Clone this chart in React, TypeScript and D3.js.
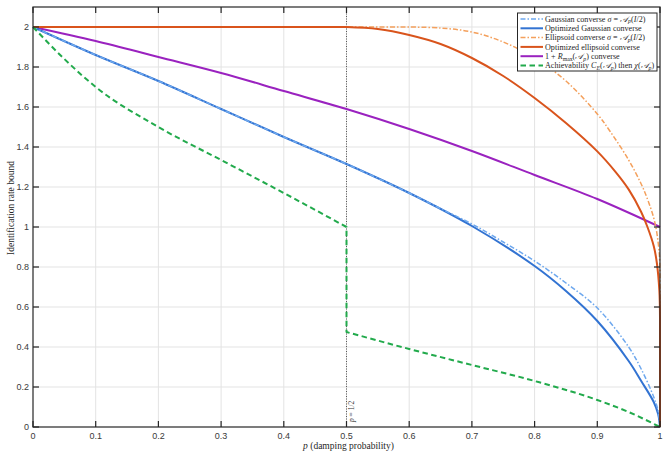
import React, { useEffect, useRef } from 'react';
import * as d3 from 'd3';

// damping probability grids and bound values
const pRmax = [0, 0.1, 0.2, 0.3, 0.4, 0.5, 0.6, 0.7, 0.8, 0.9, 1];
const vRmax = [2, 1.93, 1.85, 1.77, 1.68, 1.59, 1.49, 1.38, 1.26, 1.14, 1.0];

const pOptGauss = [0, 0.1, 0.2, 0.3, 0.4, 0.5, 0.6, 0.7, 0.8, 0.85, 0.9, 0.95, 0.97, 0.99, 0.997, 1];
const vOptGauss = [2, 1.86, 1.73, 1.59, 1.45, 1.315, 1.17, 1.005, 0.805, 0.68, 0.53, 0.33, 0.23, 0.125, 0.065, 0];

const pGauss = [0, 0.1, 0.2, 0.3, 0.4, 0.5, 0.6, 0.65, 0.7, 0.75, 0.8, 0.85, 0.9, 0.95, 0.97, 0.99, 0.997, 1];
const vGauss = [2, 1.86, 1.73, 1.59, 1.45, 1.315, 1.17, 1.092, 1.015, 0.925, 0.83, 0.72, 0.595, 0.4, 0.29, 0.15, 0.08, 0];

const pEll = [0, 0.6, 0.65, 0.7, 0.75, 0.8, 0.85, 0.9, 0.92, 0.95, 0.97, 0.98, 0.99, 0.995, 0.999, 1];
const vEll = [2, 2, 1.995, 1.975, 1.925, 1.845, 1.73, 1.565, 1.48, 1.335, 1.215, 1.14, 1.045, 0.97, 0.86, 0.78];

const pOptEll = [0, 0.5, 0.55, 0.6, 0.65, 0.7, 0.75, 0.8, 0.85, 0.9, 0.93, 0.95, 0.97, 0.98, 0.99, 0.995, 0.999, 1];
const vOptEll = [2, 2, 1.99, 1.96, 1.915, 1.845, 1.755, 1.645, 1.52, 1.378, 1.272, 1.188, 1.075, 1.0, 0.905, 0.82, 0.68, 0.55];

// achievability: C_E branch up to p = 1/2, then chi branch
const pAchA = [0, 0.05, 0.1, 0.2, 0.3, 0.4, 0.5];
const vAchA = [2, 1.84, 1.7, 1.5, 1.335, 1.17, 1.0];
const pAchB = [0.5, 0.6, 0.7, 0.8, 0.9, 0.95, 1];
const vAchB = [0.475, 0.39, 0.31, 0.23, 0.135, 0.075, 0];

const xTicks = [0, 0.1, 0.2, 0.3, 0.4, 0.5, 0.6, 0.7, 0.8, 0.9, 1];
const yTicks = [0, 0.2, 0.4, 0.6, 0.8, 1, 1.2, 1.4, 1.6, 1.8, 2];

type Seg = { t: string; s?: 'i' | 'sub' | 'cal' };

const legendItems: { label: Seg[]; color: string; dash: string | null; width: number }[] = [
  { label: [{ t: 'Gaussian converse ' }, { t: 'σ', s: 'i' }, { t: ' = ' }, { t: '𝒜', s: 'cal' }, { t: 'p', s: 'sub' }, { t: '(' }, { t: 'I', s: 'i' }, { t: '/2)' }], color: '#6ea8ee', dash: '5,2,1.5,2', width: 1.5 },
  { label: [{ t: 'Optimized Gaussian converse' }], color: '#3273d2', dash: null, width: 2 },
  { label: [{ t: 'Ellipsoid converse ' }, { t: 'σ', s: 'i' }, { t: ' = ' }, { t: '𝒜', s: 'cal' }, { t: 'p', s: 'sub' }, { t: '(' }, { t: 'I', s: 'i' }, { t: '/2)' }], color: '#f4a05c', dash: '5,2,1.5,2', width: 1.5 },
  { label: [{ t: 'Optimized ellipsoid converse' }], color: '#d9541c', dash: null, width: 2 },
  { label: [{ t: '1 + ' }, { t: 'R', s: 'i' }, { t: 'max', s: 'sub' }, { t: '(' }, { t: '𝒜', s: 'cal' }, { t: 'p', s: 'sub' }, { t: ') converse' }], color: '#9a22bf', dash: null, width: 2 },
  { label: [{ t: 'Achievability ' }, { t: 'C', s: 'i' }, { t: 'E', s: 'sub' }, { t: '(' }, { t: '𝒜', s: 'cal' }, { t: 'p', s: 'sub' }, { t: ') then ' }, { t: 'χ', s: 'i' }, { t: '(' }, { t: '𝒜', s: 'cal' }, { t: 'p', s: 'sub' }, { t: ')' }], color: '#22aa4c', dash: '5.5,3.5', width: 2 },
];

const W = 669;
const H = 457;
const serif = '"Liberation Serif", "DejaVu Serif", serif';
const sans = '"Liberation Sans", Arial, sans-serif';
const axisColor = '#262626';

const zip = (ps: number[], vs: number[]) => ps.map((p, i) => [p, vs[i]] as [number, number]);

const App: React.FC = () => {
  const svgRef = useRef<SVGSVGElement>(null);

  useEffect(() => {
    if (!svgRef.current) return;
    const svg = d3.select(svgRef.current);
    svg.selectAll('*').remove();

    const x = d3.scaleLinear().domain([0, 1]).range([33, 660]);
    const y = d3.scaleLinear().domain([0, 2.1]).range([427, 7]);
    const [x0, x1] = x.range();
    const [yb, yt] = y.range();

    svg.append('rect').attr('width', W).attr('height', H).attr('fill', '#fff');

    // grid
    const grid = svg.append('g').attr('stroke', '#e3e3e3').attr('stroke-width', 1);
    xTicks.slice(1, -1).forEach(t => {
      grid.append('line').attr('x1', x(t)).attr('x2', x(t)).attr('y1', yb).attr('y2', yt);
    });
    yTicks.slice(1).forEach(t => {
      grid.append('line').attr('x1', x0).attr('x2', x1).attr('y1', y(t)).attr('y2', y(t));
    });

    // p = 1/2 marker
    svg.append('line')
      .attr('x1', x(0.5)).attr('x2', x(0.5)).attr('y1', yb).attr('y2', yt)
      .attr('stroke', '#333').attr('stroke-width', 0.8).attr('stroke-dasharray', '1,1.5');
    svg.append('text')
      .attr('transform', `translate(${x(0.5) + 7.5},${yb - 5}) rotate(-90)`)
      .attr('font-family', serif).attr('font-size', 7.5).attr('fill', '#333')
      .html('<tspan font-style="italic">p</tspan> = 1/2');

    const smooth = d3.line<[number, number]>().x(d => x(d[0])).y(d => y(d[1])).curve(d3.curveMonotoneX);
    const round = d3.line<[number, number]>().x(d => x(d[0])).y(d => y(d[1])).curve(d3.curveCatmullRom.alpha(0.5));
    const straight = d3.line<[number, number]>().x(d => x(d[0])).y(d => y(d[1]));
    const join = (...parts: string[]) => parts.map((s, i) => (i ? s.replace(/^M/, 'L') : s)).join('');

    const draw = (d: string, color: string, width: number, dash: string | null) => {
      const p = svg.append('path').attr('d', d).attr('fill', 'none')
        .attr('stroke', color).attr('stroke-width', width)
        .attr('stroke-linejoin', 'round');
      if (dash) p.attr('stroke-dasharray', dash);
    };

    const ell = zip(pEll, vEll);
    const optEll = zip(pOptEll, vOptEll);

    draw(smooth(zip(pRmax, vRmax))!, legendItems[4].color, 2, null);
    draw(round(zip(pOptGauss, vOptGauss))!, legendItems[1].color, 2, null);
    draw(round(zip(pGauss, vGauss))!, legendItems[0].color, 1.5, legendItems[0].dash);
    draw(
      join(straight(ell.slice(0, 2))!, round(ell.slice(1))!, straight([ell[ell.length - 1], [1, 0]])!),
      legendItems[2].color, 1.5, legendItems[2].dash,
    );
    draw(
      join(straight(optEll.slice(0, 2))!, round(optEll.slice(1))!, straight([optEll[optEll.length - 1], [1, 0]])!),
      legendItems[3].color, 2, null,
    );
    draw(
      join(smooth(zip(pAchA, vAchA))!, smooth(zip(pAchB, vAchB))!),
      legendItems[5].color, 2, legendItems[5].dash,
    );

    // axes box with inward ticks
    const frame = svg.append('g').attr('stroke', axisColor).attr('stroke-width', 1.2).attr('fill', 'none');
    frame.append('rect').attr('x', x0).attr('y', yt).attr('width', x1 - x0).attr('height', yb - yt);
    const tl = 6;
    xTicks.forEach(t => {
      frame.append('line').attr('x1', x(t)).attr('x2', x(t)).attr('y1', yb).attr('y2', yb - tl);
      frame.append('line').attr('x1', x(t)).attr('x2', x(t)).attr('y1', yt).attr('y2', yt + tl);
    });
    yTicks.forEach(t => {
      frame.append('line').attr('x1', x0).attr('x2', x0 + tl).attr('y1', y(t)).attr('y2', y(t));
      frame.append('line').attr('x1', x1).attr('x2', x1 - tl).attr('y1', y(t)).attr('y2', y(t));
    });

    const fmt = d3.format('~g');
    svg.append('g').selectAll('text').data(xTicks).enter().append('text')
      .attr('x', d => x(d)).attr('y', yb + 12)
      .attr('text-anchor', 'middle').attr('font-family', sans).attr('font-size', 9).attr('fill', '#3a3a3a')
      .text(d => fmt(d));
    svg.append('g').selectAll('text').data(yTicks).enter().append('text')
      .attr('x', x0 - 4).attr('y', d => y(d) + 3.2)
      .attr('text-anchor', 'end').attr('font-family', sans).attr('font-size', 9).attr('fill', '#3a3a3a')
      .text(d => fmt(d));

    svg.append('text')
      .attr('x', (x0 + x1) / 2 + 2).attr('y', 449)
      .attr('text-anchor', 'middle').attr('font-family', serif).attr('font-size', 9.5).attr('fill', axisColor)
      .html('<tspan font-style="italic">p</tspan> (damping probability)');
    svg.append('text')
      .attr('transform', `translate(14,${(yb + yt) / 2 - 9}) rotate(-90)`)
      .attr('text-anchor', 'middle').attr('font-family', serif).attr('font-size', 9.5).attr('fill', axisColor)
      .text('Identification rate bound');

    // legend
    const lg = svg.append('g');
    lg.append('rect').attr('x', 517.5).attr('y', 13).attr('width', 139.5).attr('height', 58)
      .attr('fill', '#fff').attr('stroke', axisColor).attr('stroke-width', 1);
    legendItems.forEach((item, i) => {
      const cy = 19 + i * 9.3;
      const ln = lg.append('line').attr('x1', 520.5).attr('x2', 543).attr('y1', cy).attr('y2', cy)
        .attr('stroke', item.color).attr('stroke-width', item.width);
      if (item.dash) ln.attr('stroke-dasharray', item.dash);
      const tx = lg.append('text').attr('x', 545).attr('y', cy + 2.7)
        .attr('font-family', serif).attr('font-size', 8.1).attr('fill', axisColor);
      item.label.forEach((seg, k) => {
        const prev = k > 0 ? item.label[k - 1].s : undefined;
        const ts = tx.append('tspan').text(seg.t);
        if (seg.s === 'i' || seg.s === 'cal') ts.attr('font-style', 'italic');
        if (seg.s === 'sub') ts.attr('font-size', 5.8).attr('font-style', seg.t.length === 1 ? 'italic' : 'normal').attr('dy', 1.7);
        else if (prev === 'sub') ts.attr('dy', -1.7);
      });
    });
  }, []);

  return (
    <svg ref={svgRef} width={W} height={H} style={{ position: 'absolute', left: 0, top: 0, display: 'block' }} />
  );
};

export default App;
